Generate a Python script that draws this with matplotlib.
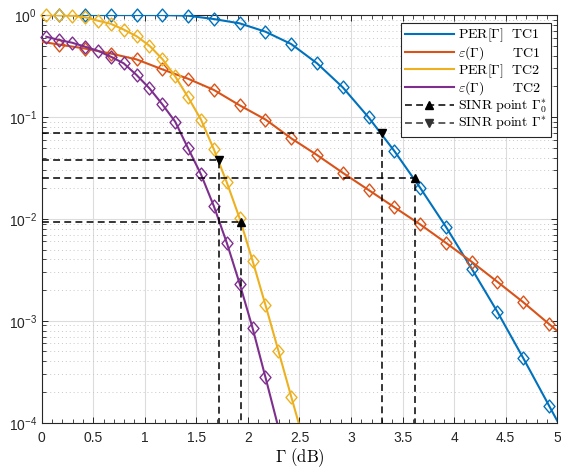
import numpy as np
import matplotlib
matplotlib.use("Agg")
import matplotlib.pyplot as plt
from matplotlib.lines import Line2D
from matplotlib.path import Path
from matplotlib.ticker import LogLocator, MultipleLocator

plt.rcParams['font.family'] = ['Liberation Sans', 'DejaVu Sans']
plt.rcParams['mathtext.fontset'] = 'cm'

# ---------------- data ----------------
x_tc1 = [-0.08, 0.17, 0.42, 0.67, 0.92, 1.17, 1.42, 1.67, 1.92, 2.17, 2.42,
         2.67, 2.92, 3.17, 3.42, 3.67, 3.92, 4.17, 4.42, 4.67, 4.92, 5.17]
per_tc1 = [1.0, 1.0, 1.0, 1.0, 1.0, 0.985, 0.913, 0.829, 0.686, 0.519, 0.336,
           0.195, 0.099, 0.0463, 0.0202, 0.00836, 0.00324, 0.00122, 4.3e-4,
           1.47e-4, 5e-5]          # starts at x_tc1[1]
eps_tc1 = [0.562, 0.513, 0.469, 0.419, 0.367, 0.293, 0.237, 0.184, 0.130,
           0.0944, 0.0617, 0.0423, 0.0283, 0.0192, 0.0130, 0.00883, 0.00582,
           0.00379, 0.00241, 0.00152, 9.3e-4, 5.7e-4]

x_tc2 = [0.045, 0.17, 0.295, 0.42, 0.545, 0.67, 0.795, 0.92, 1.045, 1.17,
         1.295, 1.42, 1.545, 1.67, 1.795, 1.92, 2.045, 2.17, 2.295, 2.42, 2.545]
per_tc2 = [1.0, 0.995, 0.985, 0.95, 0.88, 0.82, 0.72, 0.62, 0.50, 0.37, 0.25,
           0.156, 0.094, 0.048, 0.0228, 0.0101, 0.00388, 0.00143, 5.1e-4,
           1.8e-4, 6.4e-5]
eps_tc2 = [0.612, 0.568, 0.535, 0.489, 0.446, 0.390, 0.336, 0.258, 0.191,
           0.133, 0.0897, 0.0492, 0.0273, 0.0133, 0.00582, 0.00231, 8.5e-4,
           2.79e-4, 9e-5]          # starts at x_tc2[0]

# SINR points (x, y)
g0_x = [1.936, 3.617]
g0_y = [0.0093, 0.025]
g_x = [1.719, 3.30]
g_y = [0.0378, 0.069]

labels = [r'$\mathrm{PER}[\Gamma]\ \ \mathrm{TC1}$',
          r'$\varepsilon(\Gamma)\qquad\ \mathrm{TC1}$',
          r'$\mathrm{PER}[\Gamma]\ \ \mathrm{TC2}$',
          r'$\varepsilon(\Gamma)\qquad\ \mathrm{TC2}$',
          r'$\mathrm{SINR\ point}\ \Gamma_0^{*}$',
          r'$\mathrm{SINR\ point}\ \Gamma^{*}$']

colors = ['#0072BD', '#D95319', '#EDB120', '#7E2F8E']
XMIN, XMAX, YMIN, YMAX = 0, 5, 1e-4, 1

# --------------- figure ---------------
fig = plt.figure(figsize=(5.61, 4.71), dpi=100)
ax = fig.add_axes([0.0743, 0.1025, 0.9191, 0.8656])

diamond = Path([(0, 1), (0.85, 0), (0, -1), (-0.85, 0), (0, 1)],
               [Path.MOVETO, Path.LINETO, Path.LINETO, Path.LINETO, Path.CLOSEPOLY])

series = [(x_tc1[1:], per_tc1), (x_tc1, eps_tc1),
          (x_tc2, per_tc2), (x_tc2[:len(eps_tc2)], eps_tc2)]
for (xs, ys), c in zip(series, colors):
    xs = np.asarray(xs, float); ys = np.asarray(ys, float)
    ax.plot(xs, ys, color=c, lw=1.5, zorder=3)
    m = (xs >= XMIN) & (xs <= XMAX) & (ys >= YMIN) & (ys <= YMAX)
    ax.plot(xs[m], ys[m], ls='none', marker=diamond, ms=9.3, mfc='none',
            mec=c, mew=1.0, clip_on=False, zorder=3)

dash = (4.5, 2.8)
for xs, ys, mk, col in [(g0_x, g0_y, '^', 'k'), (g_x, g_y, 'v', 'k')]:
    for px, py in zip(xs, ys):
        ax.plot([XMIN, px, px], [py, py, YMIN], color=col, lw=1.1,
                dashes=dash, zorder=4)
        ax.plot([px], [py], ls='none', marker=mk, ms=6, color=col, zorder=5)

ax.set_xlim(XMIN, XMAX)
ax.set_yscale('log')
ax.set_ylim(YMIN, YMAX)

ax.xaxis.set_minor_locator(MultipleLocator(0.1))
ax.yaxis.set_major_locator(LogLocator(base=10, numticks=10))
ax.yaxis.set_minor_locator(LogLocator(base=10, subs=np.arange(2, 10), numticks=20))
ax.set_xticks([0, 0.5, 1, 1.5, 2, 2.5, 3, 3.5, 4, 4.5, 5])
ax.set_xticklabels(['0', '0.5', '1', '1.5', '2', '2.5', '3', '3.5', '4', '4.5', '5'])

spine_c = '#262626'
for s in ax.spines.values():
    s.set_color(spine_c); s.set_linewidth(0.8)
ax.tick_params(which='both', direction='in', top=True, right=True,
               colors=spine_c, labelsize=10)
ax.tick_params(which='major', length=4.5, width=0.7)
ax.tick_params(which='minor', length=2.7, width=0.6)
ax.tick_params(axis='x', pad=6)

ax.grid(True, which='major', color='#dcdcdc', lw=0.8, ls='-', zorder=0)
ax.yaxis.grid(True, which='minor', color='#c8c8c8', lw=0.7, ls=(0, (1, 3)))
ax.set_axisbelow(True)

ax.set_xlabel(r'$\Gamma\ \mathrm{(dB)}$', fontsize=12, labelpad=1, color='k')

handles = [Line2D([], [], color=c, lw=1.5) for c in colors]
handles.append(Line2D([], [], color='k', lw=1.1, dashes=dash, marker='^', ms=6))
handles.append(Line2D([], [], color='#333333', lw=1.1, dashes=dash, marker='v', ms=6))
leg = ax.legend(handles, labels, loc='upper right',
                bbox_to_anchor=(550.7 / 561, 1 - 22.7 / 471),
                bbox_transform=fig.transFigure, borderaxespad=0,
                fontsize=10, handlelength=3.5, handletextpad=0.3,
                labelspacing=0.0, borderpad=0.3, fancybox=False,
                framealpha=1, edgecolor='#262626', numpoints=1)
leg.get_frame().set_linewidth(0.8)

fig.savefig('out.png', dpi=100)
